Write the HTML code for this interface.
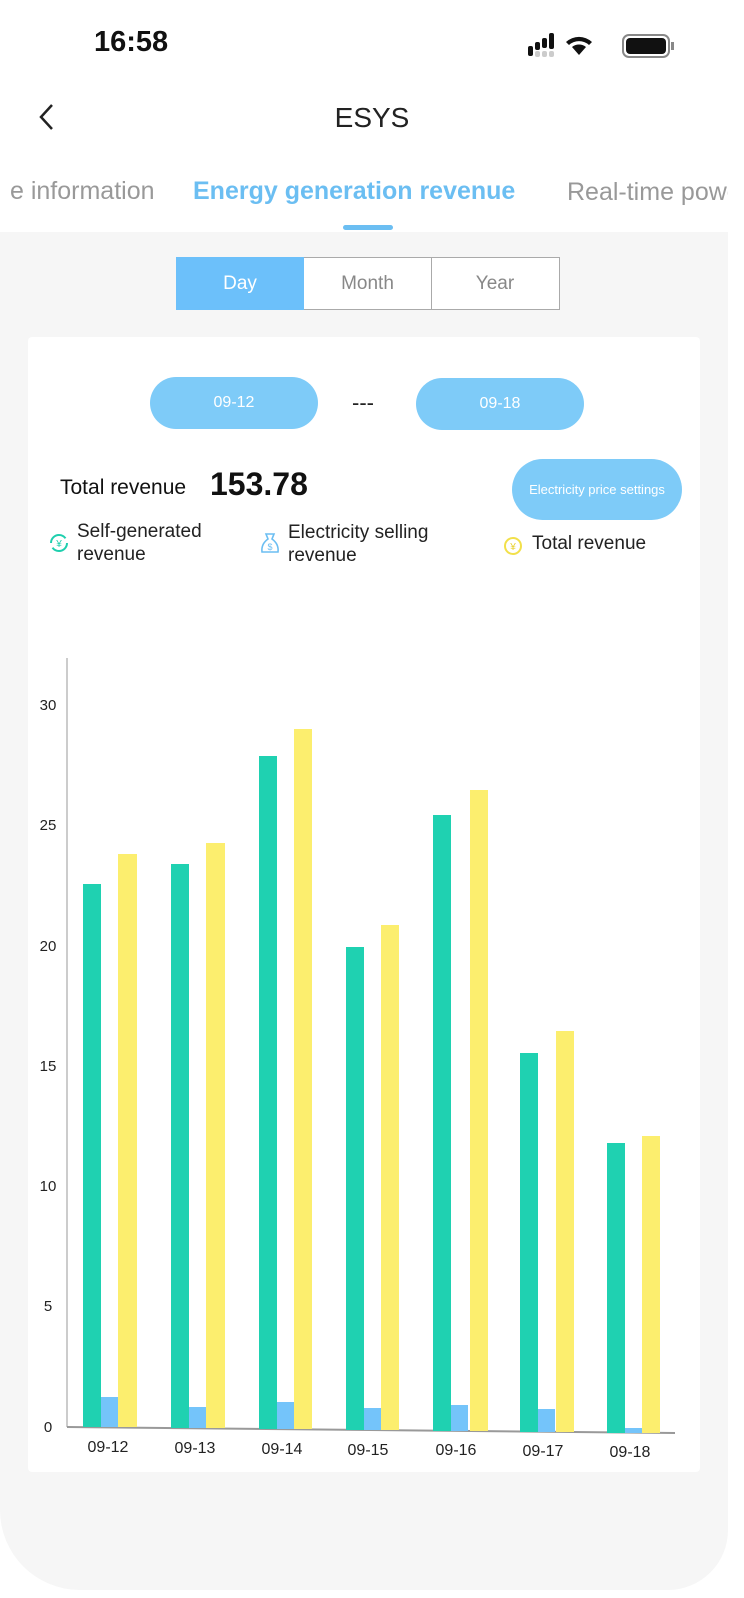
<!DOCTYPE html>
<html><head><meta charset="utf-8"><style>
body{margin:0;width:744px;height:1598px;background:#fff;position:relative;overflow:hidden;font-family:"Liberation Sans",sans-serif}
.a{position:absolute}
.pill{position:absolute;background:#7ecbf8;border-radius:26px;color:#fff;font-size:16px;text-align:center}
</style></head><body>
<div class="a" style="left:0;top:232px;width:728px;height:1358px;background:#f6f6f6;border-radius:0 0 60px 80px"></div>
<div class="a" style="left:94px;top:26px;font-size:29px;font-weight:bold;color:#111">16:58</div>
<svg class="a" style="left:526px;top:32px" width="152" height="28">
<rect x="2" y="14" width="5" height="10" rx="2" fill="#111"/><rect x="9" y="10" width="5" height="8" rx="2" fill="#111"/><rect x="16" y="6" width="5" height="10" rx="2" fill="#111"/><rect x="23" y="1" width="5" height="16" rx="2" fill="#111"/>
<rect x="9" y="19" width="5" height="6" rx="2" fill="#ccc"/><rect x="16" y="19" width="5" height="6" rx="2" fill="#ccc"/><rect x="23" y="19" width="5" height="6" rx="2" fill="#ccc"/>
<path d="M53 23 L46 15 A11 11 0 0 1 60 15 Z M40 10 A19 19 0 0 1 66 10 L63 13 A15 15 0 0 0 43 13Z" fill="#111"/>
<rect x="97" y="3" width="46" height="22" rx="6" fill="none" stroke="#888" stroke-width="2"/><rect x="100" y="6" width="40" height="16" rx="4" fill="#111"/><rect x="145" y="10" width="3" height="8" fill="#888"/>
</svg>
<svg class="a" style="left:36px;top:102px" width="20" height="30"><path d="M16 3 L5 15 L16 27" stroke="#222" stroke-width="2.5" fill="none"/></svg>
<div class="a" style="left:0;width:744px;top:102px;text-align:center;font-size:28px;color:#222">ESYS</div>
<div class="a" style="left:10px;top:177px;font-size:25px;color:#999;white-space:nowrap">e information</div>
<div class="a" style="left:193px;top:177px;font-size:25px;color:#6bbef2;font-weight:bold;white-space:nowrap">Energy generation revenue</div>
<div class="a" style="left:567px;top:178px;font-size:25px;color:#999;white-space:nowrap;width:161px;overflow:hidden">Real-time power</div>
<div class="a" style="left:343px;top:225px;width:50px;height:5px;border-radius:3px;background:#6bbef2"></div>
<div class="a" style="left:176px;top:257px;width:382px;height:51px;border:1px solid #aaa;background:#fff"></div>
<div class="a" style="left:176px;top:257px;width:128px;height:53px;background:#6cc0fa;color:#fff;font-size:19px;line-height:53px;text-align:center">Day</div>
<div class="a" style="left:304px;top:258px;width:127px;height:51px;border-right:1px solid #aaa;color:#888;font-size:19px;line-height:51px;text-align:center">Month</div>
<div class="a" style="left:432px;top:258px;width:126px;height:51px;color:#888;font-size:19px;line-height:51px;text-align:center">Year</div>
<div class="a" style="left:28px;top:337px;width:672px;height:1135px;background:#fff;border-radius:4px"></div>
<div class="pill" style="left:150px;top:377px;width:168px;height:52px;line-height:52px">09-12</div>
<div class="a" style="left:352px;top:390px;font-size:22px;color:#222">---</div>
<div class="pill" style="left:416px;top:378px;width:168px;height:52px;line-height:52px">09-18</div>
<div class="pill" style="left:512px;top:459px;width:170px;height:61px;line-height:61px;font-size:13px;border-radius:31px">Electricity price settings</div>
<div class="a" style="left:60px;top:476px;font-size:21px;color:#111">Total revenue</div>
<div class="a" style="left:210px;top:466px;font-size:32px;font-weight:bold;color:#111">153.78</div>
<svg class="a" style="left:48px;top:532px" width="22" height="22"><circle cx="11" cy="11" r="8" fill="none" stroke="#1fcfae" stroke-width="2" stroke-dasharray="20 5"/><text x="11" y="15" font-size="10" fill="#1fcfae" text-anchor="middle" font-family="Liberation Sans">¥</text></svg>
<div class="a" style="left:77px;top:520px;font-size:19px;color:#222;line-height:23px">Self-generated<br>revenue</div>
<svg class="a" style="left:259px;top:530px" width="22" height="26"><path d="M7 4 L15 4 L13 9 Q20 14 19 22 L3 22 Q2 14 9 9Z" fill="none" stroke="#6bbef2" stroke-width="1.6"/><text x="11" y="20" font-size="9" fill="#6bbef2" text-anchor="middle" font-family="Liberation Sans">$</text></svg>
<div class="a" style="left:288px;top:521px;font-size:19px;color:#222;line-height:23px">Electricity selling<br>revenue</div>
<svg class="a" style="left:502px;top:535px" width="22" height="22"><circle cx="11" cy="11" r="8" fill="none" stroke="#f2e04a" stroke-width="2"/><text x="11" y="15" font-size="10" fill="#e8d230" text-anchor="middle" font-family="Liberation Sans">¥</text></svg>
<div class="a" style="left:532px;top:533px;font-size:19px;color:#222">Total revenue</div>
<svg class="a" style="left:0;top:0" width="744" height="1598" font-family="Liberation Sans" font-size="15" fill="#222">
<line x1="67" y1="658" x2="67" y2="1427" stroke="#999" stroke-width="1"/>
<line x1="67" y1="1427" x2="675" y2="1433" stroke="#999" stroke-width="2"/>
<g text-anchor="middle">
<text x="48" y="710">30</text><text x="48" y="830">25</text><text x="48" y="951">20</text><text x="48" y="1071">15</text><text x="48" y="1191">10</text><text x="48" y="1311">5</text><text x="48" y="1432">0</text>
</g>
<g fill="#1fd1b1">
<rect x="83" y="884" width="18" height="543"/><rect x="171" y="864" width="18" height="564"/><rect x="259" y="756" width="18" height="673"/><rect x="346" y="947" width="18" height="483"/><rect x="433" y="815" width="18" height="616"/><rect x="520" y="1053" width="18" height="379"/><rect x="607" y="1143" width="18" height="290"/>
</g>
<g fill="#74c4fa">
<rect x="101" y="1397" width="17" height="30"/><rect x="189" y="1407" width="17" height="21"/><rect x="277" y="1402" width="17" height="27"/><rect x="364" y="1408" width="17" height="22"/><rect x="451" y="1405" width="17" height="26"/><rect x="538" y="1409" width="17" height="23"/><rect x="625" y="1428" width="17" height="5"/>
</g>
<g fill="#fcee6e">
<rect x="118" y="854" width="19" height="573"/><rect x="206" y="843" width="19" height="585"/><rect x="294" y="729" width="18" height="700"/><rect x="381" y="925" width="18" height="505"/><rect x="470" y="790" width="18" height="641"/><rect x="556" y="1031" width="18" height="401"/><rect x="642" y="1136" width="18" height="297"/>
</g>
<g text-anchor="middle" font-size="16">
<text x="108" y="1452">09-12</text><text x="195" y="1453">09-13</text><text x="282" y="1454">09-14</text><text x="368" y="1455">09-15</text><text x="456" y="1455">09-16</text><text x="543" y="1456">09-17</text><text x="630" y="1457">09-18</text>
</g>
</svg>
</body></html>
